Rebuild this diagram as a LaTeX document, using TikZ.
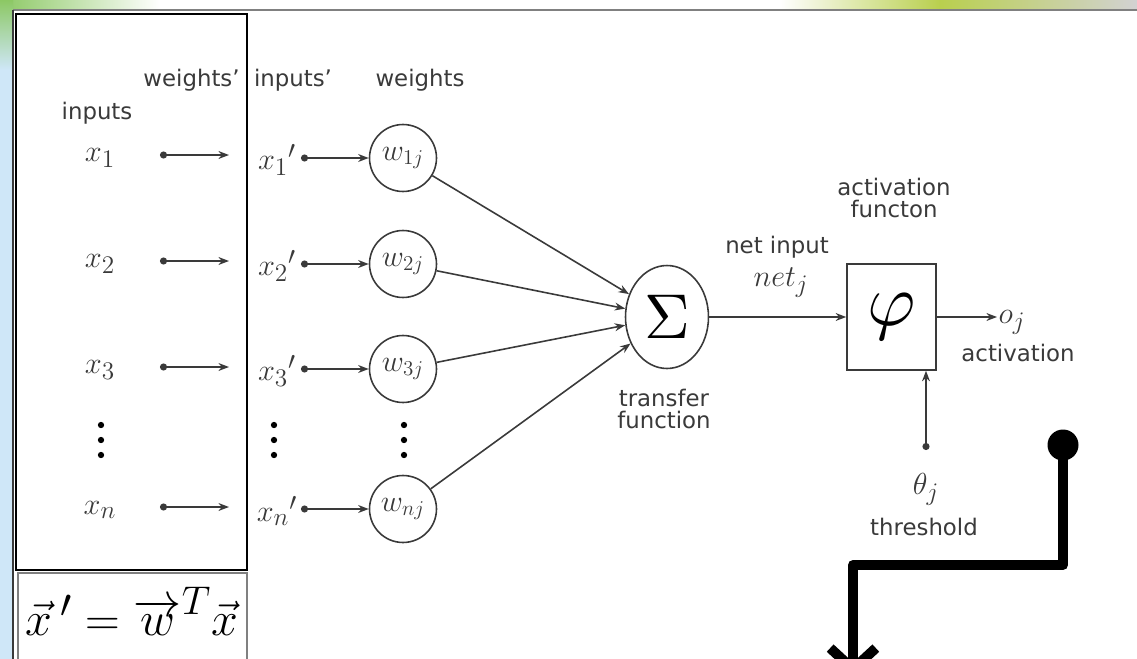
\documentclass[tikz,border=0pt]{standalone}
\usepackage{graphicx}
\usepackage{fontspec}
\setmainfont{DejaVu Sans}
\usepackage{tikz}
\usetikzlibrary{positioning, arrows.meta, shapes.geometric}
\definecolor{slGreen}{HTML}{8CC864}
\definecolor{slLime}{HTML}{B9CF4E}
\definecolor{slBlue}{HTML}{CFE7F8}
\definecolor{inkGray}{HTML}{3A3A3A}

\begin{document}
\begin{tikzpicture}[
    x=0.02cm, y=-0.02cm,
    lbl/.style={text=inkGray, font=\fontsize{13}{15}\selectfont, inner sep=0pt},
    var/.style={text=inkGray, font=\fontsize{19}{22}\selectfont, inner sep=0pt},
    wnode/.style={draw=inkGray, circle, line width=0.9pt, minimum size=1.34cm, inner sep=0pt, text=inkGray, font=\fontsize{18}{21}\selectfont},
    dotpt/.style={circle, fill=black, minimum size=3.6pt, inner sep=0pt},
    flow/.style={draw=inkGray, line width=0.9pt, -{Stealth[length=6pt, width=4.5pt]}},
    feed/.style={flow, {Circle[length=4pt]}-{Stealth[length=6pt, width=4.5pt]}},
    heavy/.style={draw=black, line width=5.7pt, line join=round},
  ]
  \useasboundingbox (0,0) rectangle (1137,659);
  \clip (0,0) rectangle (1137,659);

  \fill[white] (0,0) rectangle (1137,659);
  \shade[left color=slGreen, right color=white] (0,0) rectangle (160,10);
  \shade[left color=white, right color=slLime] (780,0) rectangle (940,10);
  \shade[left color=slLime, right color=gray!35] (940,0) rectangle (1137,10);
  \shade[top color=slGreen, bottom color=slBlue] (0,0) rectangle (13,70);
  \fill[slBlue] (0,70) rectangle (13,659);
  \draw[gray, line width=1pt] (13,10) -- (1137,10);
  \draw[inkGray, line width=0.8pt] (13,10) -- (13,659);

  \draw[black, line width=1pt] (16,14) rectangle (247,570);
  \draw[gray, line width=0.7pt] (18,573) rectangle (247,662);
  \node[text=black, inner sep=0pt, font=\fontsize{24.88}{28}\selectfont] (rule) at (132,611) {\scalebox{1.1}{$\vec{x}\,' = {\overrightarrow{w}}^{T}\vec{x}$}};

  \node[lbl] (inputs) at (97,113) {inputs};
  \node[lbl, anchor=east] (wtsp) at (240,80) {weights'};
  \node[lbl] (inpp) at (293,80) {inputs'};
  \node[lbl] (wts) at (420,80) {weights};

  \foreach \k/\ya/\yb in {1/155/158, 2/261/264, 3/367/369, n/507/509} {
    \node[var] (x\k) at (100,\ya+3) {$x_{\k}$};
    \coordinate (s\k) at (160,\ya);
    \coordinate (e\k) at (229,\ya);
    \draw[feed] (s\k) -- (e\k);
    \node[var] (xp\k) at (277,\yb+2) {${x_{\k}}'$};
    \coordinate (t\k) at (301,\yb);
    \node[wnode] (w\k) at (403,\yb) {$w_{\k j}$};
    \draw[feed] (t\k) -- (w\k);
  }
  \foreach \c/\xc in {a/101, b/274, c/404}
    \foreach \r/\yc in {1/425, 2/440, 3/455}
      \node[dotpt] (dot\c\r) at (\xc,\yc) {};

  \node[draw=inkGray, ellipse, line width=0.9pt, minimum width=1.66cm, minimum height=2.06cm, inner sep=0pt] (sum) at (667,317) {\scalebox{3.6}{$\Sigma$}};
  \foreach \k in {1,2,3,n}
    \draw[flow] (w\k) -- (sum);
  \node[lbl, align=center] (trans) at (664,409) {transfer\\[-2pt]function};

  \node[draw=inkGray, line width=0.9pt, minimum width=1.78cm, minimum height=2.12cm, inner sep=0pt] (phi) at (891.5,317) {\scalebox{4.2}{$\varphi$}};
  \draw[flow] (sum) -- (phi);
  \node[lbl] (netin) at (777,247) {net input};
  \node[var] (net) at (781,283) {$net_j$};
  \node[lbl, align=center] (actf) at (894,198) {activation\\[-2pt]functon};

  \coordinate (oend) at (997,317);
  \draw[flow] (phi) -- (oend);
  \node[var] (oj) at (1012,322) {$o_j$};
  \node[lbl] (act) at (1018,353) {activation};

  \coordinate (th) at (926,450);
  \draw[feed] (th) -- (phi.south -| th);
  \node[var] (theta) at (926,489) {$\theta_j$};
  \node[lbl] (thr) at (924,527) {threshold};

  \node[circle, fill=black, minimum size=0.62cm, inner sep=0pt] (knob) at (1063,445) {};
  \coordinate (bendA) at (1063,565);
  \coordinate (bendB) at (853,565);
  \coordinate (tip) at (853,676);
  \draw[heavy, -{Straight Barb[length=12pt, width=26pt]}] (knob.center) -- (bendA) -- (bendB) -- (tip);
\end{tikzpicture}
\end{document}
